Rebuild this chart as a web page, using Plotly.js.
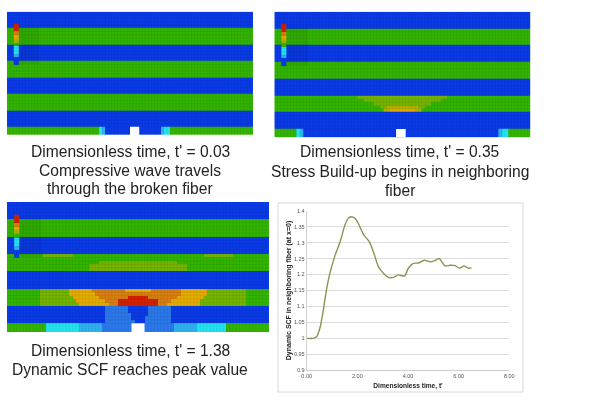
<!DOCTYPE html>
<html><head><meta charset="utf-8">
<script src="https://cdn.plot.ly/plotly-3.0.1.min.js"></script>
<style>html,body{margin:0;padding:0;background:#fff}#g{width:600px;height:401px;filter:blur(0.35px)}</style>
</head><body><div id="g"></div>
<script>
// ---- line chart data ----
const timeValues=[0,0.26,0.39,0.53,0.66,0.79,0.92,1.12,1.32,1.51,1.64,1.75,1.91,2.04,2.24,2.47,2.63,2.83,3.03,3.26,3.42,3.62,3.86,4.01,4.21,4.41,4.64,4.87,5.03,5.24,5.46,5.66,5.86,6.03,6.21,6.38,6.51];
const scfValues=[1,1,1.005,1.035,1.09,1.157,1.205,1.26,1.303,1.355,1.376,1.381,1.376,1.36,1.326,1.303,1.272,1.225,1.204,1.19,1.191,1.199,1.195,1.219,1.235,1.236,1.245,1.24,1.243,1.25,1.227,1.229,1.228,1.22,1.227,1.22,1.221];
const yTickVals=[0.9,0.95,1,1.05,1.1,1.15,1.2,1.25,1.3,1.35,1.4];
const yTickText=['0.9','0.95','1','1.05','1.1','1.15','1.2','1.25','1.3','1.35','1.4'];
const xTickVals=[0,2,4,6,8];
const xTickText=['0.00','2.00','4.00','6.00','8.00'];
const xTitle="Dimensionless time, t'";
const yTitle="Dynamic SCF in neighboring fiber (at x=0)";

// ---- captions ----
const caption1=["Dimensionless time, t' = 0.03","Compressive wave travels","through the broken fiber"];
const caption2=["Dimensionless time, t' = 0.35","Stress Build-up begins in neighboring","fiber"];
const caption3=["Dimensionless time, t' = 1.38","Dynamic SCF reaches peak value"];

// ---- contour levels ----
const levelColors=['#0a3ae8','#2a78ea','#2eb0f0','#22e2f0','#32b400','#74b400','#b4ae00','#e4ac00','#d87e10','#d42000'];
const legendLevels=[0,0,2,3,3,4,6,7,8,9,9];
const BLUE=[[0,80]], GREEN=[[4,80]];
// rows are listed top to bottom, each as [level, number of cells]
const rowsPanel1=[
 BLUE,BLUE,BLUE,BLUE,BLUE, GREEN,GREEN,GREEN,GREEN,GREEN,
 BLUE,BLUE,BLUE,BLUE,BLUE, GREEN,GREEN,GREEN,GREEN,GREEN,
 BLUE,BLUE,BLUE,BLUE,BLUE, GREEN,GREEN,GREEN,GREEN,GREEN,
 BLUE,BLUE,BLUE,BLUE,BLUE,
 [[4,30],[3,1],[2,1],[0,18],[2,1],[3,2],[4,27]]
];
const rowsPanel2=[
 BLUE,BLUE,BLUE,BLUE,BLUE, GREEN,GREEN,GREEN,GREEN,GREEN,
 BLUE,BLUE,BLUE,BLUE,BLUE, GREEN,GREEN,GREEN,GREEN,GREEN,
 BLUE,BLUE,BLUE,BLUE,BLUE,
 [[4,26],[5,28],[4,26]],
 [[4,28],[5,24],[4,28]],
 [[4,31],[5,18],[4,31]],
 [[4,33],[5,2],[6,10],[5,2],[4,33]],
 [[4,34],[6,2],[7,8],[6,2],[4,34]],
 BLUE,BLUE,BLUE,BLUE,BLUE,
 [[4,7],[3,1],[2,1],[0,61],[2,1],[3,2],[4,7]]
];
const rowsPanel3=[
 BLUE,BLUE,BLUE,BLUE,BLUE, GREEN,GREEN,GREEN,GREEN,GREEN,
 BLUE,BLUE,BLUE,BLUE,BLUE,
 [[4,11],[5,9],[4,40],[5,9],[4,11]],
 GREEN,
 [[4,28],[5,24],[4,28]],
 [[4,25],[5,30],[4,25]],
 [[4,25],[5,30],[4,25]],
 BLUE,BLUE,BLUE,BLUE,BLUE,
 [[4,10],[5,9],[7,7],[8,10],[7,8],[8,9],[7,8],[5,12],[4,7]],
 [[4,10],[5,9],[7,8],[8,26],[7,8],[5,12],[4,7]],
 [[4,10],[5,10],[7,8],[8,9],[9,6],[8,9],[7,8],[5,13],[4,7]],
 [[4,10],[5,11],[7,9],[8,4],[9,12],[8,4],[7,9],[5,14],[4,7]],
 [[4,10],[5,12],[7,9],[8,3],[9,12],[8,3],[7,10],[5,14],[4,7]],
 [[0,30],[1,7],[0,6],[1,7],[0,30]],
 [[0,30],[1,7],[0,6],[1,7],[0,30]],
 [[0,30],[1,8],[0,5],[1,7],[0,30]],
 [[0,30],[1,8],[0,4],[1,8],[0,30]],
 [[0,30],[1,9],[0,3],[1,8],[0,30]],
 [[4,12],[3,10],[2,7],[1,22],[2,7],[3,9],[4,13]]
];
const notchPanel1=[40,43], notchPanel2=[38,41], notchPanel3=[38,42];

// ---- layout in pixels ----
const W=600,H=401;
const dx=(a,b)=>[a/W,b/W], dy=(top,bot)=>[1-bot/H,1-top/H];
const boxes=[{x:[7,253],y:[11.7,135]},{x:[274.3,530.7],y:[11.7,137.3]},{x:[7,269],y:[202,332]}];
const notches=[notchPanel1,notchPanel2,notchPanel3];
const allRows=[rowsPanel1,rowsPanel2,rowsPanel3];
const COLS=80, ROWS=37.5;
const expand=r=>{const o=[];r.forEach(([v,n])=>{for(let i=0;i<n;i++)o.push(v)});return o};
const xEdges=[];for(let i=0;i<=COLS;i++)xEdges.push(i);
const yEdges=[0];for(let i=0;i<36;i++)yEdges.push(2.5+i);
const scale=levelColors.flatMap((c,i)=>[[i/levelColors.length,c],[(i+1)/levelColors.length,c]]);
const traces=[],shapes=[],layout={};
const ax=n=>n===0?'':String(n+1);

allRows.forEach((rows,p)=>{
  const s=ax(p);
  traces.push({type:'heatmap',xaxis:'x'+s,yaxis:'y'+s,x:xEdges,y:yEdges,z:rows.slice().reverse().map(expand),
    colorscale:scale,zmin:-0.5,zmax:9.5,showscale:false,hoverinfo:'skip'});
  traces.push({type:'heatmap',xaxis:'x'+s,yaxis:'y'+s,x:[2.2,3.8],y:legendLevels.map((_,i)=>21.3+i*12.5/legendLevels.length).concat([33.8]),
    z:legendLevels.map(v=>[v]),colorscale:scale,zmin:-0.5,zmax:9.5,showscale:false,hoverinfo:'skip'});
  // element mesh
  const mx=[],my=[];
  for(let i=1;i<COLS;i++){mx.push(i,i,null);my.push(0,ROWS,null)}
  for(let j=0;j<36;j++){const y=2.5+j;mx.push(0,COLS,null);my.push(y,y,null)}
  traces.push({type:'scatter',mode:'lines',xaxis:'x'+s,yaxis:'y'+s,x:mx,y:my,line:{color:'rgba(0,30,0,0.09)',width:0.7},hoverinfo:'skip',showlegend:false});
  const xa='x'+s,ya='y'+s;
  shapes.push({type:'rect',xref:xa,yref:ya,x0:notches[p][0],x1:notches[p][1],y0:0,y1:2.5,fillcolor:'#fff',line:{width:0},layer:'above'});
  shapes.push({type:'rect',xref:xa,yref:ya,x0:4,x1:10.5,y0:21.5,y1:33,fillcolor:'rgba(0,0,0,0.06)',line:{width:0},layer:'above'});
  layout['xaxis'+s]={domain:dx(...boxes[p].x),range:[0,COLS],visible:false,anchor:'y'+s,fixedrange:true};
  layout['yaxis'+s]={domain:dy(...boxes[p].y),range:[0,ROWS],visible:false,anchor:'x'+s,fixedrange:true};
});

// line chart
traces.push({type:'scatter',mode:'lines',xaxis:'x4',yaxis:'y4',x:timeValues,y:scfValues,
  line:{color:'#8a9450',width:1.4,shape:'spline',smoothing:0.6},hoverinfo:'skip',showlegend:false});
layout.xaxis4={domain:dx(306.7,509.3),range:[0,8],anchor:'y4',tickvals:xTickVals,ticktext:xTickText,
  tickfont:{family:'Liberation Sans',size:5.5,color:'#555'},ticks:'',showgrid:false,showline:true,linecolor:'#d0d0d0',zeroline:false,
  title:{text:xTitle,font:{family:'Liberation Sans',size:6.6,color:'#222',weight:'bold'},standoff:5},automargin:false,fixedrange:true};
layout.yaxis4={domain:dy(210.7,370.3),range:[0.9,1.4],anchor:'x4',tickvals:yTickVals,ticktext:yTickText,
  tickfont:{family:'Liberation Sans',size:5.5,color:'#555'},ticks:'',showgrid:true,gridcolor:'#dcdcdc',gridwidth:1,showline:true,linecolor:'#d0d0d0',zeroline:false,
  title:{text:yTitle,font:{family:'Liberation Sans',size:7,color:'#222',weight:'bold'},standoff:1},automargin:false,fixedrange:true};
shapes.push({type:'rect',xref:'paper',yref:'paper',x0:278/W,x1:523/W,y0:1-392/H,y1:1-203/H,line:{color:'#d8d8d8',width:1},fillcolor:'rgba(0,0,0,0)',layer:'below'});

const capAnn=(lines,cx,ys)=>lines.map((t,i)=>({text:t,xref:'paper',yref:'paper',x:cx/W,y:1-ys[i]/H,xanchor:'center',yanchor:'middle',showarrow:false,
  font:{family:'Liberation Sans',size:15.6,color:'#222'}}));
const annotations=[...capAnn(caption1,130,[151,170,188]),...capAnn(caption2,400,[152,171.5,190]),...capAnn(caption3,130,[350,369])];

Object.assign(layout,{width:W,height:H,margin:{l:0,r:0,t:0,b:0},paper_bgcolor:'#fff',plot_bgcolor:'rgba(0,0,0,0)',showlegend:false,shapes,annotations});
Plotly.newPlot('g',traces,layout,{displayModeBar:false,staticPlot:true});
</script></body></html>
